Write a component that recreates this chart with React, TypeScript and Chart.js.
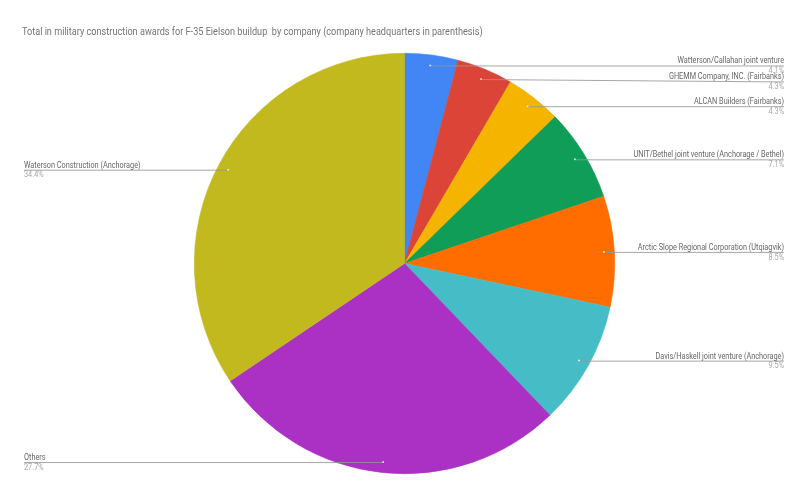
import { useEffect, useRef } from 'react';
import { Chart, registerables } from 'chart.js';

Chart.register(...registerables);

const TITLE = 'Total in military construction awards for F-35 Eielson buildup  by company (company headquarters in parenthesis)';

const companies = [
  'Watterson/Callahan joint venture',
  'GHEMM Company, INC. (Fairbanks)',
  'ALCAN Builders (Fairbanks)',
  'UNIT/Bethel joint venture (Anchorage / Bethel)',
  'Arctic Slope Regional Corporation (Utqiagvik)',
  'Davis/Haskell joint venture (Anchorage)',
  'Others',
  'Waterson Construction (Anchorage)',
];

const shares = [4.1, 4.3, 4.3, 7.1, 8.5, 9.5, 27.7, 34.4];

const sliceColors = [
  '#4285f4',
  '#db4437',
  '#f4b400',
  '#0f9d58',
  '#ff6d01',
  '#46bdc6',
  '#ab30c4',
  '#c2b91f',
];

// the original uses a narrow font, so squeeze text horizontally
function squeezedText(ctx: any, text: string, x: number, y: number, sx: number) {
  ctx.save();
  ctx.translate(x, y);
  ctx.scale(sx, 1);
  ctx.fillText(text, 0, 0);
  ctx.restore();
}

// draws title + google-sheets style leader labels
const leaderLabels = {
  id: 'leaderLabels',
  afterDraw(chart: any) {
    const ctx = chart.ctx;
    const meta = chart.getDatasetMeta(0);
    const w = chart.width;
    ctx.save();
    ctx.font = '11px Roboto';
    ctx.fillStyle = '#757575';
    ctx.textAlign = 'left';
    ctx.textBaseline = 'middle';
    squeezedText(ctx, TITLE, 22, 32, 0.83);

    let lastRight = -100;
    meta.data.forEach((arc: any, i: number) => {
      const p = arc.getProps(['x', 'y', 'startAngle', 'endAngle', 'outerRadius'], true);
      const mid = (p.startAngle + p.endAngle) / 2;
      const r = p.outerRadius * 0.95;
      const dx = p.x + Math.cos(mid) * r;
      const dy = p.y + Math.sin(mid) * r;
      const right = Math.cos(mid) >= 0;
      const endX = right ? w - 25 : 24;
      let ly = dy;
      if (right) {
        ly = Math.max(dy, lastRight + 16);
        lastRight = ly;
      }

      ctx.strokeStyle = 'rgba(150,150,150,0.85)';
      ctx.lineWidth = 1;
      ctx.beginPath();
      ctx.moveTo(dx, dy + 0.5);
      ctx.lineTo(endX, ly + 0.5);
      ctx.stroke();

      ctx.fillStyle = 'rgba(255,255,255,0.75)';
      ctx.beginPath();
      ctx.arc(dx, dy, 1, 0, Math.PI * 2);
      ctx.fill();

      ctx.textAlign = right ? 'right' : 'left';
      ctx.font = '8.3px Roboto';
      ctx.fillStyle = '#666666';
      ctx.textBaseline = 'alphabetic';
      squeezedText(ctx, companies[i], endX, ly - 2, 0.88);
      ctx.fillStyle = '#a8a8a8';
      ctx.textBaseline = 'top';
      squeezedText(ctx, shares[i].toFixed(1) + '%', endX, ly + 1.5, 0.88);
    });
    ctx.restore();
  },
};

export default function App() {
  const canvasRef = useRef<HTMLCanvasElement>(null);
  const chartRef = useRef<Chart | null>(null);

  useEffect(() => {
    if (!canvasRef.current) return;
    if (chartRef.current) chartRef.current.destroy();

    chartRef.current = new Chart(canvasRef.current, {
      type: 'pie',
      data: {
        labels: companies,
        datasets: [
          {
            data: shares,
            backgroundColor: sliceColors,
            borderColor: sliceColors,
            borderWidth: 0.6,
          },
        ],
      },
      options: {
        animation: false,
        responsive: true,
        maintainAspectRatio: false,
        layout: { padding: { top: 53, bottom: 26, left: 0, right: 0 } },
        plugins: {
          legend: { display: false },
          title: { display: false },
          tooltip: { enabled: false },
        },
      },
      plugins: [leaderLabels],
    });

    return () => {
      if (chartRef.current) chartRef.current.destroy();
    };
  }, []);

  return (
    <div style={{ position: 'fixed', left: 0, top: 0, width: 809, height: 500, background: '#fff' }}>
      <canvas ref={canvasRef}></canvas>
    </div>
  );
}
